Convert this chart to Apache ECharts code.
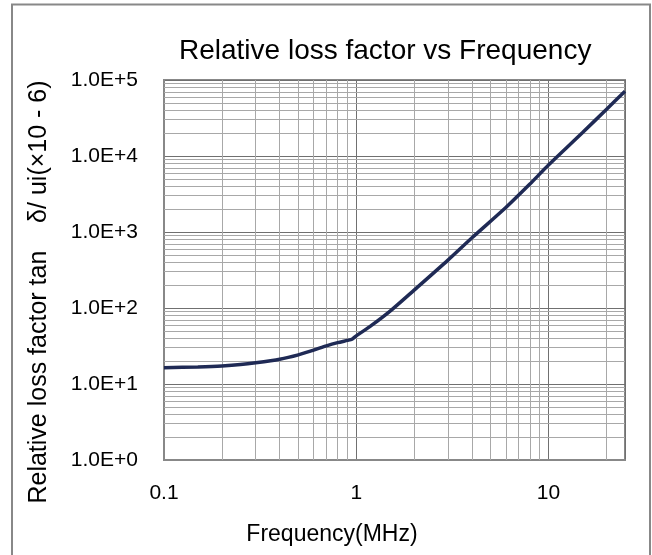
<!DOCTYPE html>
<html>
<head>
<meta charset="utf-8">
<script src="https://cdn.jsdelivr.net/npm/echarts@6/dist/echarts.min.js"></script>
<style>
html,body{margin:0;padding:0;background:#fff;}
#chart{width:652px;height:555px;}
</style>
</head>
<body>
<div id="chart"></div>
<script>
// Frequency (MHz)
const freq = [0.1, 0.15, 0.2, 0.25, 0.3, 0.4, 0.5, 0.6, 0.7, 0.8, 0.9, 0.95, 1.0, 1.2, 1.5, 2, 3, 4, 6, 8, 10, 15, 20, 25];
// Relative loss factor tanδ/ui (×10^-6)
const lossFactor = [16.3, 16.8, 17.3, 18.0, 19.0, 21.2, 24.2, 27.9, 31.8, 35.0, 37.5, 38.8, 43, 59, 91, 172, 427, 840, 2100, 4270, 7600, 20200, 41000, 71000];
// Minor grid positions
const xMinor = [0.2,0.3,0.4,0.5,0.6,0.7,0.8,0.9,2,3,4,5,6,7,8,9,20];
const yMinor = [];
[1,10,100,1000,10000].forEach(d => { for (let k = 2; k <= 9; k++) yMinor.push(d*k); });

const titleText = 'Relative loss factor vs Frequency';
const xName = 'Frequency(MHz)';
const yName = 'Relative loss factor tan    δ/ ui(×10 - 6)';

const FONT = '"Liberation Sans", Arial, sans-serif';
const chart = echarts.init(document.getElementById('chart'), null, {renderer: 'canvas'});

const minorData = xMinor.map(v => ({xAxis: v})).concat(yMinor.map(v => ({yAxis: v})));

chart.setOption({
  animation: false,
  backgroundColor: '#fff',
  grid: {left: 164, top: 80, width: 461, height: 380, show: true, borderColor: '#888', borderWidth: 2, backgroundColor: 'transparent'},
  graphic: [
    {type: 'rect', shape: {x: 12, y: 4.5, width: 638, height: 600}, style: {fill: 'none', stroke: '#888', lineWidth: 2}, silent: true},
    {type: 'text', left: 179, top: 37, style: {text: titleText, font: '28px ' + FONT, fill: '#000'}},
    {type: 'text', x: 332, y: 535, style: {text: xName, font: '23px ' + FONT, fill: '#000', align: 'center', verticalAlign: 'middle'}},
    {type: 'text', x: 39, y: 292, rotation: Math.PI/2, style: {text: yName, font: '25px ' + FONT, fill: '#000', align: 'center', verticalAlign: 'middle'}}
  ],
  xAxis: {
    type: 'log', logBase: 10, min: 0.1, max: 25,
    axisLine: {show: true, lineStyle: {color: '#888', width: 2}},
    axisTick: {show: false},
    axisLabel: {
      margin: 23, fontSize: 21, fontFamily: FONT, color: '#000', showMaxLabel: false,
      formatter: v => String(parseFloat(Number(v).toPrecision(3)))
    },
    splitLine: {show: true, lineStyle: {color: '#707070', width: 1}}
  },
  yAxis: {
    type: 'log', logBase: 10, min: 1, max: 100000,
    axisLine: {show: true, lineStyle: {color: '#888', width: 2}},
    axisTick: {show: false},
    axisLabel: {
      margin: 26, fontSize: 21, fontFamily: FONT, color: '#000',
      formatter: v => Number(v).toExponential(1).toUpperCase()
    },
    splitLine: {show: true, lineStyle: {color: '#707070', width: 1}}
  },
  series: [
    {
      type: 'line', data: [], z: 1, silent: true,
      markLine: {
        silent: true, symbol: ['none','none'], label: {show: false},
        lineStyle: {type: 'solid', color: '#a8a8a8', width: 1},
        emphasis: {disabled: true},
        data: minorData
      }
    },
    {
      type: 'line', z: 5,
      data: freq.map((f, i) => [f, lossFactor[i]]),
      showSymbol: false, smooth: 0.25,
      lineStyle: {color: '#1f2a55', width: 3.5}
    }
  ]
});
</script>
</body>
</html>
